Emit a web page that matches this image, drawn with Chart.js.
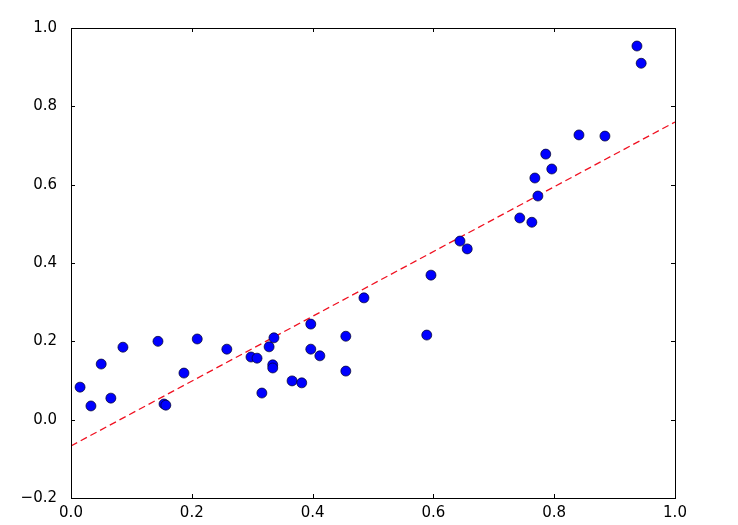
<!DOCTYPE html>
<html>
<head>
<meta charset="utf-8">
<script src="https://cdn.jsdelivr.net/npm/chart.js@4/dist/chart.umd.min.js"></script>
<style>
html,body{margin:0;padding:0;background:#fff;}
#wrap{width:738px;height:525px;}
</style>
</head>
<body>
<div id="wrap"><canvas id="c" width="738" height="525"></canvas></div>
<script>
const xValues = [0.015,0.033,0.050,0.066,0.086,0.144,0.154,0.157,0.187,0.209,0.258,0.298,0.308,0.316,0.328,0.336,0.334,0.334,0.366,0.382,0.397,0.397,0.412,0.455,0.455,0.485,0.589,0.596,0.644,0.656,0.743,0.763,0.768,0.773,0.786,0.796,0.841,0.884,0.937,0.944];
const yValues = [0.083,0.035,0.142,0.055,0.185,0.200,0.040,0.037,0.119,0.206,0.180,0.160,0.157,0.068,0.186,0.209,0.140,0.132,0.099,0.094,0.244,0.180,0.163,0.213,0.124,0.311,0.216,0.369,0.456,0.436,0.515,0.504,0.617,0.571,0.678,0.640,0.727,0.724,0.954,0.910];
const fitX = [0.0, 1.0];
const fitY = [-0.067, 0.760];
const xTicks = [0.0,0.2,0.4,0.6,0.8,1.0];
const yTicks = [-0.2,0.0,0.2,0.4,0.6,0.8,1.0];

const fmt = v => { const s = Math.abs(v).toFixed(1); return (v < -1e-9 ? '\u2212' : '') + s; };

const frame = {
  id: 'frame',
  afterDraw(chart) {
    const {ctx, chartArea: a, scales} = chart;
    ctx.save();
    ctx.strokeStyle = '#000';
    ctx.lineWidth = 1;
    const L = 4;
    ctx.beginPath();
    xTicks.forEach(v => {
      const px = Math.round(scales.x.getPixelForValue(v)) + 0.5;
      ctx.moveTo(px, a.bottom); ctx.lineTo(px, a.bottom - L);
      ctx.moveTo(px, a.top); ctx.lineTo(px, a.top + L);
    });
    yTicks.forEach(v => {
      const py = Math.round(scales.y.getPixelForValue(v)) + 0.5;
      ctx.moveTo(a.left, py); ctx.lineTo(a.left + L, py);
      ctx.moveTo(a.right, py); ctx.lineTo(a.right - L, py);
    });
    ctx.stroke();
    ctx.strokeRect(Math.round(a.left)+0.5, Math.round(a.top)+0.5, Math.round(a.right-a.left), Math.round(a.bottom-a.top));
    ctx.restore();
  }
};

new Chart(document.getElementById('c'), {
  type: 'scatter',
  data: {
    datasets: [
      {
        type: 'line',
        data: fitX.map((x, i) => ({x, y: fitY[i]})),
        borderColor: '#f01020',
        borderWidth: 1.3,
        borderDash: [7, 4],
        pointRadius: 0,
        fill: false,
        order: 2
      },
      {
        data: xValues.map((x, i) => ({x, y: yValues[i]})),
        backgroundColor: '#0000ff',
        borderColor: '#000022',
        borderWidth: 0.7,
        pointRadius: 5,
        order: 1
      }
    ]
  },
  options: {
    responsive: false,
    animation: false,
    layout: {padding: {left: 0, top: 28, right: 63, bottom: 0}},
    plugins: {legend: {display: false}, tooltip: {enabled: false}},
    scales: {
      x: {
        type: 'linear', min: 0, max: 1,
        afterFit: s => { s.height = 27; },
        afterBuildTicks: s => { s.ticks = xTicks.map(v => ({value: v})); },
        grid: {display: false},
        border: {display: false},
        ticks: {color: '#000', padding: -2, font: {family: 'DejaVu Sans', size: 15}, callback: v => fmt(v), maxRotation: 0, autoSkip: false}
      },
      y: {
        type: 'linear', min: -0.2, max: 1,
        afterFit: s => { s.width = 71; },
        afterBuildTicks: s => { s.ticks = yTicks.map(v => ({value: v})); },
        grid: {display: false},
        border: {display: false},
        ticks: {color: '#000', padding: 6, font: {family: 'DejaVu Sans', size: 15}, callback: v => fmt(v), autoSkip: false}
      }
    }
  },
  plugins: [frame]
});
</script>
</body>
</html>
